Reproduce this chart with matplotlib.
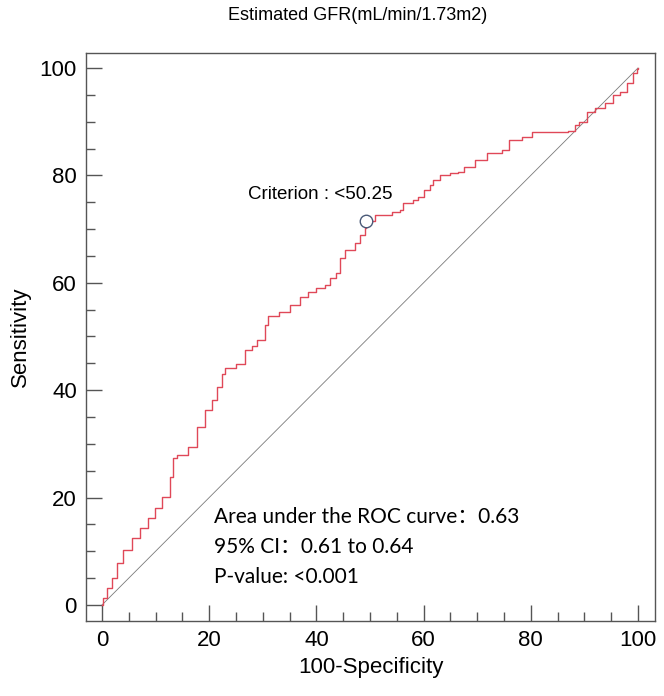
import matplotlib
matplotlib.use("Agg")
import matplotlib.pyplot as plt
from matplotlib.ticker import MultipleLocator

# ROC curve: 100-specificity vs sensitivity
fpr = [0, 0.2, 0.9, 1.9, 2.8, 3.9, 5.6, 7.1, 8.6, 9.9, 11.2, 12.7, 13.2, 14.0,
       16.0, 17.7, 19.2, 20.5, 21.5, 22.3, 23.0, 25.0, 26.7, 28.0, 29.0, 30.4,
       31.0, 33.0, 35.0, 36.9, 38.5, 40.0, 41.6, 42.5, 43.7, 44.4, 45.3, 47.2,
       48.1, 49.0, 49.3, 50.9, 54.1, 55.6, 56.2, 58.0, 59.0, 60.0, 61.2, 61.8,
       63.0, 64.9, 66.4, 67.5, 69.6, 71.8, 74.6, 76.0, 78.4, 80.2, 87.0, 88.2,
       89.0, 90.5, 92.0, 93.8, 95.4, 96.6, 98.0, 99.0, 99.8, 100]
sens = [0, 1.3, 3.2, 5.0, 7.8, 10.2, 12.5, 14.3, 16.2, 18.1, 20.1, 23.8, 27.4,
        27.9, 29.4, 33.1, 36.3, 38.2, 40.5, 43.0, 44.1, 44.8, 47.5, 48.2, 49.3,
        52.1, 53.8, 54.6, 55.8, 57.4, 58.3, 59.0, 59.6, 60.8, 61.8, 64.6, 66.1,
        67.4, 68.9, 70.2, 71.5, 72.6, 73.2, 73.6, 74.9, 75.4, 76.0, 77.2, 78.2,
        79.1, 80.0, 80.4, 80.6, 81.6, 82.9, 84.2, 84.7, 86.6, 87.1, 88.1, 88.3,
        89.4, 90.0, 91.8, 92.5, 93.5, 95.0, 95.5, 97.2, 99.0, 99.8, 100]

crit_x, crit_y = 49.3, 71.5
crit_label = "Criterion : <50.25"
stats_lines = ["Area under the ROC curve\uff1a0.63",
               "95% CI\uff1a0.61 to 0.64",
               "P-value: <0.001"]

fig = plt.figure(figsize=(6.64, 6.96), dpi=100)
ax = fig.add_axes([0.1295, 0.1078, 0.857, 0.816])

ax.plot([0, 100], [0, 100], color="#7a7a7a", lw=0.6)
ax.plot(fpr, sens, color="#e04858", lw=1.0, drawstyle="steps-post")
ax.plot(crit_x, crit_y, "o", ms=9, mfc="white", mec="#4a5a78", mew=1.0)
ax.text(crit_x - 8.5, crit_y + 5, crit_label, ha="center", va="center",
        fontsize=13.5, family="Liberation Sans")

for i, line in enumerate(stats_lines):
    ax.text(20.9, 16.4 - 5.6 * i, line, ha="left", va="center", fontsize=15,
            family=["Lato", "Noto Sans CJK SC"])

ax.set_xlim(-3, 103.2)
ax.set_ylim(-3, 102.8)
ax.xaxis.set_major_locator(MultipleLocator(20))
ax.yaxis.set_major_locator(MultipleLocator(20))
ax.xaxis.set_minor_locator(MultipleLocator(5))
ax.yaxis.set_minor_locator(MultipleLocator(5))
ax.tick_params(which="major", direction="in", length=11.5, width=1.0,
               color="#555555", labelsize=16, pad=6.5)
ax.tick_params(which="minor", direction="in", length=6.5, width=1.0,
               color="#555555")
for lbl in ax.get_xticklabels() + ax.get_yticklabels():
    lbl.set_family("Liberation Sans")
for sp in ax.spines.values():
    sp.set_color("#555555")
    sp.set_linewidth(1.0)

ax.set_xlabel("100-Specificity", fontsize=16, family="Liberation Sans", labelpad=4)
ax.set_ylabel("Sensitivity", fontsize=16, family="Liberation Sans", labelpad=6)
fig.text(0.538, 0.978, "Estimated GFR(mL/min/1.73m2)", ha="center", va="center",
         fontsize=13, family="Liberation Sans")

fig.savefig("out.png", dpi=100)
